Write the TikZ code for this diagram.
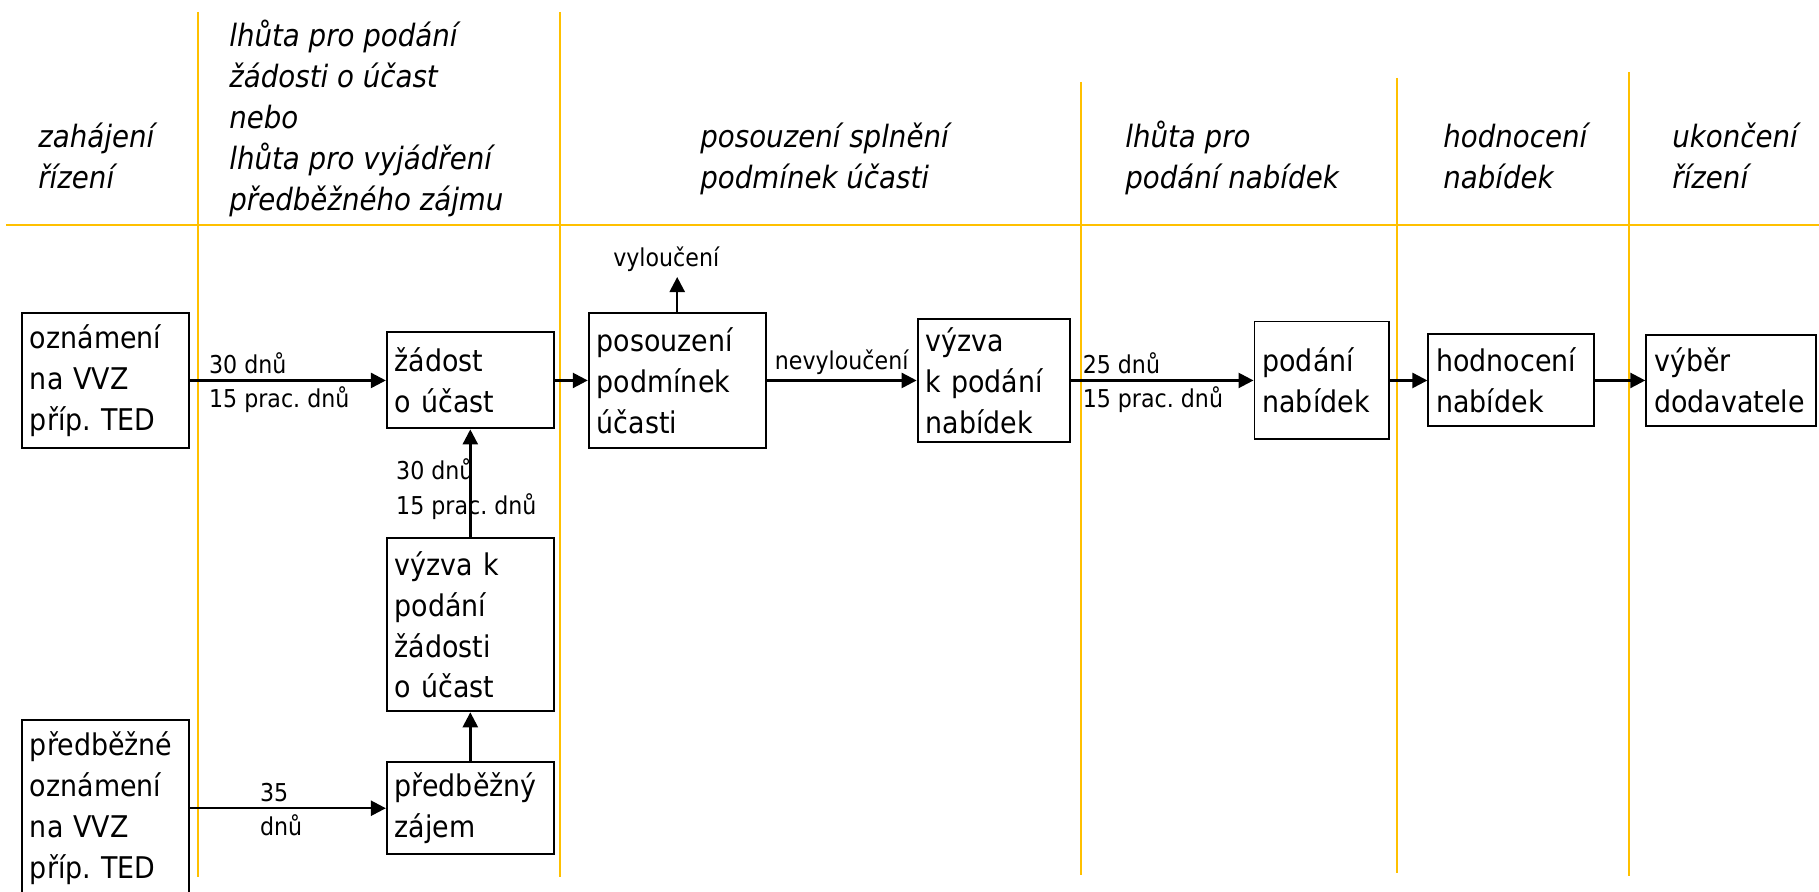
\documentclass[tikz,border=0pt]{standalone}
\usepackage{fontspec}
\setmainfont[FakeStretch=0.9,ItalicFont={DejaVu Sans Oblique}]{DejaVu Sans}
\usetikzlibrary{positioning, arrows.meta}
\definecolor{lane}{RGB}{255,192,0}
\frenchspacing
\tikzstyle{stage} = [rectangle,
draw=black,
line width=1.1pt,
inner sep=0.16cm,
align=left,
font=\fontsize{17pt}{23.3pt}\selectfont]
\tikzstyle{phase} = [anchor=base west,
inner sep=0,
align=left,
font=\itshape\fontsize{17.5pt}{23.3pt}\selectfont]
\tikzstyle{term} = [inner sep=0.1cm,
font=\fontsize{14pt}{19.9pt}\selectfont]
\tikzstyle{flow} = [-{Triangle[length=0.3cm,width=0.3cm]}, line width=1.4pt]
\tikzstyle{divider} = [lane, line width=1.2pt]

\begin{document}
\begin{tikzpicture}[x=0.02cm, y=-0.02cm]
\useasboundingbox (0,0) rectangle (1819,892);
% phase lanes
\draw [divider] (6,225) -- (1819,225);
\draw [divider] (198,12) -- (198,877);
\draw [divider] (560,12) -- (560,877);
\draw [divider] (1081,82) -- (1081,875);
\draw [divider] (1397,78) -- (1397,873);
\draw [divider] (1629,72) -- (1629,876);

% headers, placed by their last baseline
\node [phase] (zahajeni) at (38,188) {zahájení\\řízení};
\node [phase] (lhutazad) at (229,210) {lhůta pro podání\\žádosti o účast\\nebo\\lhůta pro vyjádření\\předběžného zájmu};
\node [phase] (splneni) at (700,188) {posouzení splnění\\podmínek účasti};
\node [phase] (lhutanab) at (1125,188) {lhůta pro\\podání nabídek};
\node [phase] (hodnocenihead) at (1443,188) {hodnocení\\nabídek};
\node [phase] (ukonceni) at (1672,188) {ukončení\\řízení};

% main row
\node [stage, text width=3.02cm, minimum height=2.7cm, anchor=north west] (oznameni) at (21,312) {oznámení\\na VVZ\\příp. TED};
\node [stage, text width=3.02cm, minimum height=1.92cm, right=3.92cm of oznameni] (zadost) {žádost\\o účast};
\node [stage, text width=3.22cm, minimum height=2.7cm, right=0.66cm of zadost] (posouzeni) {posouzení\\podmínek\\účasti};
\node [stage, text width=2.72cm, minimum height=2.36cm, right=3.0cm of posouzeni] (vyzva) {výzva\\k podání\\nabídek};
\node [stage, text width=2.38cm, minimum height=2.36cm, right=3.66cm of vyzva] (podani) {podání\\nabídek};
\node [stage, text width=3.0cm, minimum height=1.84cm, right=0.74cm of podani] (hodnoceni) {hodnocení\\nabídek};
\node [stage, text width=3.08cm, minimum height=1.82cm, right=1.0cm of hodnoceni] (vyber) {výběr\\dodavatele};
\node [term, above=0.7cm of posouzeni, xshift=-0.22cm] (vylouceni) {vyloučení};

% prior notice branch
\node [stage, text width=3.02cm, minimum height=3.46cm, below=2.16cm of zadost] (vyzvazad) {výzva k\\podání\\žádosti\\o účast};
\node [stage, text width=3.02cm, minimum height=1.84cm, below=0.98cm of vyzvazad] (zajem) {předběžný\\zájem};
\node [stage, text width=3.02cm, minimum height=3.52cm, left=3.92cm of zajem] (predbezne) {předběžné\\oznámení\\na VVZ\\příp. TED};

\draw [flow] (oznameni) -- (zadost)
  node [term, pos=0, anchor=south west, xshift=0.26cm] {30 dnů}
  node [term, pos=0, anchor=north west, xshift=0.26cm] {15 prac. dnů};
\draw [flow] (zadost) -- (posouzeni);
\draw [flow] (posouzeni) -- (posouzeni |- vylouceni.south);
\draw [flow] (posouzeni) -- node [term, above] {nevyloučení} (vyzva);
\draw [flow] (vyzva) -- (podani)
  node [term, pos=0, anchor=south west, xshift=0.12cm] {25 dnů}
  node [term, pos=0, anchor=north west, xshift=0.12cm] {15 prac. dnů};
\draw [flow] (podani) -- (hodnoceni);
\draw [flow] (hodnoceni) -- (vyber);
\draw [flow] (vyzvazad) -- node [term, align=left, xshift=-0.08cm, yshift=-0.11cm] {30 dnů\\15 prac. dnů} (zadost);
\draw [flow] (zajem) -- (vyzvazad);
\draw [flow] (predbezne) -- (zajem)
  node [term, pos=0, anchor=south west, xshift=1.28cm] {35}
  node [term, pos=0, anchor=north west, xshift=1.28cm] {dnů};
\end{tikzpicture}
\end{document}
